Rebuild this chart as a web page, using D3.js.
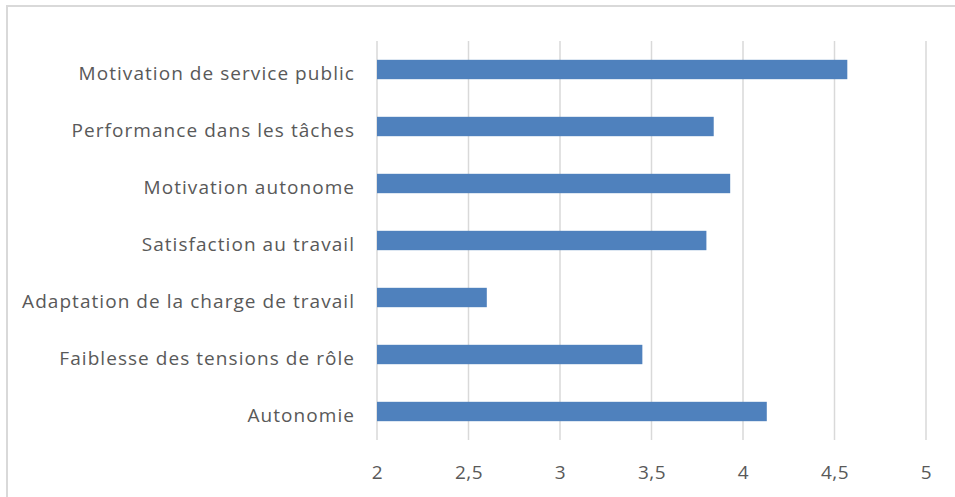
<!DOCTYPE html>
<html><head><meta charset="utf-8">
<script src="https://cdn.jsdelivr.net/npm/d3@7"></script>
<style>body{margin:0;background:#fff;}svg{display:block;}</style>
</head><body>
<script>
const categories = ["Motivation de service public","Performance dans les tâches","Motivation autonome","Satisfaction au travail","Adaptation de la charge de travail","Faiblesse des tensions de rôle","Autonomie"];
const values = [4.57, 3.84, 3.93, 3.80, 2.60, 3.45, 4.13];
const tickValues = [2, 2.5, 3, 3.5, 4, 4.5, 5];
const tickLabels = ["2","2,5","3","3,5","4","4,5","5"];

const W = 955, H = 497;
const svg = d3.select("body").append("svg").attr("width", W).attr("height", H);
svg.append("rect").attr("x", 7).attr("y", 6).attr("width", W + 10).attr("height", H + 10)
  .attr("fill", "#fff").attr("stroke", "#d9d9d9").attr("stroke-width", 2);

const pL = 377, pR = 926, pT = 41, pB = 440;
const x = d3.scaleLinear().domain([2, 5]).range([pL, pR]);
const y = d3.scaleBand().domain(categories).range([pT, pB]).paddingInner(0.66).paddingOuter(0.33);

const font = "'Open Sans', sans-serif";
const grid = svg.append("g");
grid.selectAll("line").data(tickValues).join("line")
  .attr("x1", d => x(d)).attr("x2", d => x(d)).attr("y1", pT).attr("y2", pB)
  .attr("stroke", "#d9d9d9").attr("stroke-width", 1.5);

svg.append("g").selectAll("rect").data(values).join("rect")
  .attr("x", x(2)).attr("y", (d, i) => y(categories[i]))
  .attr("width", d => x(d) - x(2)).attr("height", y.bandwidth())
  .attr("fill", "#4f81bd");

const xAxis = d3.axisBottom(x).tickValues(tickValues).tickFormat((d, i) => tickLabels[i]).tickSize(0).tickPadding(0);
const gx = svg.append("g").attr("transform", `translate(0,${pB + 25})`).call(xAxis);
gx.select(".domain").remove();
gx.selectAll("text").attr("font-family", font).attr("font-size", 19).attr("letter-spacing", "0.5px").attr("fill", "#595959").attr("dy", "0.71em");

const yAxis = d3.axisLeft(y).tickSize(0).tickPadding(22);
const gy = svg.append("g").attr("transform", `translate(${pL},4)`).call(yAxis);
gy.select(".domain").remove();
gy.selectAll("text").attr("font-family", font).attr("font-size", 19).attr("letter-spacing", "1.05px").attr("fill", "#595959");
</script>
</body></html>
